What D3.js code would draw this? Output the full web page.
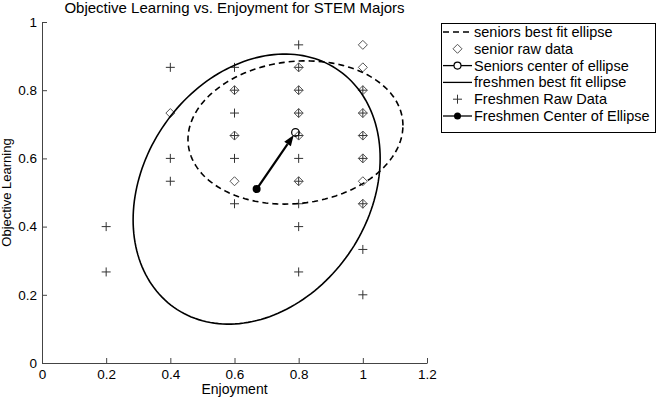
<!DOCTYPE html>
<html><head><meta charset="utf-8">
<script src="https://cdn.jsdelivr.net/npm/d3@7"></script>
<style>
body{margin:0;background:#fff}
svg{display:block}
text{font-family:"Liberation Sans",Arial,sans-serif;fill:#000}
</style>
</head><body><svg id="c" width="658" height="406"></svg>
<script>
const xTicks=[0,0.2,0.4,0.6,0.8,1,1.2];
const yTicks=[0,0.2,0.4,0.6,0.8,1];

const freshX=[0.2,0.2,0.4,0.4,0.4,0.6,0.6,0.6,0.6,0.6,0.6,
  0.8,0.8,0.8,0.8,0.8,0.8,0.8,0.8,0.8,0.8,1,1,1,1,1,1,1];
const freshY=[0.4,0.267,0.867,0.6,0.533,0.867,0.8,0.733,0.667,0.6,0.467,
  0.933,0.867,0.8,0.733,0.667,0.6,0.533,0.467,0.4,0.267,0.8,0.733,0.667,0.6,0.467,0.333,0.2];

const seniorX=[0.4,0.6,0.6,0.6,0.8,0.8,0.8,0.8,0.8,1,1,1,1,1,1,1,1];
const seniorY=[0.733,0.8,0.667,0.533,0.867,0.8,0.733,0.667,0.533,0.933,0.867,0.8,0.733,0.667,0.6,0.533,0.467];

const seniorCenter=[0.790,0.676];
const freshCenter=[0.669,0.510];
// [half width, half height, xy covariance]
const seniorEllipse=[0.335,0.210,0.0069];
const freshEllipse=[0.385,0.396,0.0347];

const legendLabels=["seniors best fit ellipse","senior raw data","Seniors center of ellipse",
  "freshmen best fit ellipse","Freshmen Raw Data","Freshmen Center of Ellipse"];

const svg=d3.select("#c");
const x=d3.scaleLinear([0,1.2],[42,427]);
const y=d3.scaleLinear([0,1],[363,22]);

// title
svg.append("text").attr("x",(x(0)+x(1.2))/2).attr("y",13).attr("text-anchor","middle")
  .style("font-size","15px").text("Objective Learning vs. Enjoyment for STEM Majors");

// axes
const gx=svg.append("g").attr("transform",`translate(0,${y(0)})`)
  .call(d3.axisBottom(x).tickValues(xTicks).tickFormat(d=>String(d)).tickSizeInner(-5).tickSizeOuter(0).tickPadding(6));
const gy=svg.append("g").attr("transform",`translate(${x(0)},0)`)
  .call(d3.axisLeft(y).tickValues(yTicks).tickFormat(d=>String(d)).tickSizeInner(-5).tickSizeOuter(0).tickPadding(5));
[gx,gy].forEach(g=>{
  g.selectAll("path,line").attr("stroke","#444");
  g.selectAll("text").style("font-size","13.5px").attr("fill","#000");
});
svg.append("text").attr("x",(x(0)+x(1.2))/2).attr("y",394).attr("text-anchor","middle")
  .style("font-size","14px").text("Enjoyment");
svg.append("text").attr("transform",`translate(11,${(y(0)+y(1))/2}) rotate(-90)`).attr("text-anchor","middle")
  .style("font-size","13px").text("Objective Learning");

// ellipse generator from covariance (via Cholesky)
function ellipsePts(c,e){
  const sxx=e[0]*e[0], syy=e[1]*e[1], sxy=e[2];
  const l11=Math.sqrt(sxx), l21=sxy/l11, l22=Math.sqrt(syy-l21*l21);
  return d3.range(0,361,2).map(a=>{
    const t=a*Math.PI/180, u=Math.cos(t), v=Math.sin(t);
    return [c[0]+l11*u, c[1]+l21*u+l22*v];
  });
}
const line=d3.line().x(d=>x(d[0])).y(d=>y(d[1]));

const plusPath="M-4.5,0H4.5M0,-4.5V4.5";
const diaPath="M0,-4.5L4.5,0L0,4.5L-4.5,0Z";

// freshmen raw data
svg.append("g").selectAll("path").data(freshX.map((d,i)=>[d,freshY[i]])).join("path")
  .attr("transform",d=>`translate(${x(d[0])},${y(d[1])})`).attr("d",plusPath)
  .attr("stroke","#333").attr("stroke-width",1).attr("fill","none");
// senior raw data
svg.append("g").selectAll("path").data(seniorX.map((d,i)=>[d,seniorY[i]])).join("path")
  .attr("transform",d=>`translate(${x(d[0])},${y(d[1])})`).attr("d",diaPath)
  .attr("stroke","#555").attr("stroke-width",1).attr("fill","none");

// ellipses
svg.append("path").attr("d",line(ellipsePts(freshCenter,freshEllipse)))
  .attr("fill","none").attr("stroke","#000").attr("stroke-width",1.6);
svg.append("path").attr("d",line(ellipsePts(seniorCenter,seniorEllipse)))
  .attr("fill","none").attr("stroke","#000").attr("stroke-width",1.6).attr("stroke-dasharray","6,4");

// centers & arrow
const fx=x(freshCenter[0]), fy=y(freshCenter[1]), sx=x(seniorCenter[0]), sy=y(seniorCenter[1]);
const ang=Math.atan2(sy-fy,sx-fx);
const tipX=sx-3*Math.cos(ang), tipY=sy-3*Math.sin(ang);
const hl=11, hw=4;
const bx=tipX-hl*Math.cos(ang), by=tipY-hl*Math.sin(ang);
svg.append("line").attr("x1",fx).attr("y1",fy).attr("x2",bx).attr("y2",by)
  .attr("stroke","#000").attr("stroke-width",2.2);
svg.append("path").attr("d",`M${tipX},${tipY}L${bx-hw*Math.sin(ang)},${by+hw*Math.cos(ang)}L${bx+hw*Math.sin(ang)},${by-hw*Math.cos(ang)}Z`)
  .attr("fill","#000");
svg.append("circle").attr("cx",fx).attr("cy",fy).attr("r",4).attr("fill","#000");
svg.append("circle").attr("cx",sx).attr("cy",sy).attr("r",3.8).attr("fill","none").attr("stroke","#000").attr("stroke-width",1.2);

// legend
const lg=svg.append("g");
lg.append("rect").attr("x",441.5).attr("y",23.5).attr("width",214).attr("height",109)
  .attr("fill","#fff").attr("stroke","#000").attr("stroke-width",1);
legendLabels.forEach((lab,i)=>{
  const cy=32+i*16.8, x0=443, x1=472, xm=457.5;
  if(i===0) lg.append("line").attr("x1",x0).attr("x2",x1).attr("y1",cy).attr("y2",cy)
    .attr("stroke","#000").attr("stroke-width",1.3).attr("stroke-dasharray","6,4");
  if(i===2||i===3||i===5) lg.append("line").attr("x1",x0).attr("x2",x1).attr("y1",cy).attr("y2",cy)
    .attr("stroke","#000").attr("stroke-width",1.3);
  if(i===1) lg.append("path").attr("transform",`translate(${xm},${cy})`).attr("d",diaPath)
    .attr("stroke","#555").attr("fill","none");
  if(i===4) lg.append("path").attr("transform",`translate(${xm},${cy})`).attr("d",plusPath)
    .attr("stroke","#333").attr("fill","none");
  if(i===2) lg.append("circle").attr("cx",xm).attr("cy",cy).attr("r",3.5).attr("fill","#fff").attr("stroke","#000").attr("stroke-width",1.2);
  if(i===5) lg.append("circle").attr("cx",xm).attr("cy",cy).attr("r",3.5).attr("fill","#000");
  lg.append("text").attr("x",474).attr("y",cy).attr("dy","0.35em").style("font-size","14.5px").text(lab);
});
</script>
</body></html>
